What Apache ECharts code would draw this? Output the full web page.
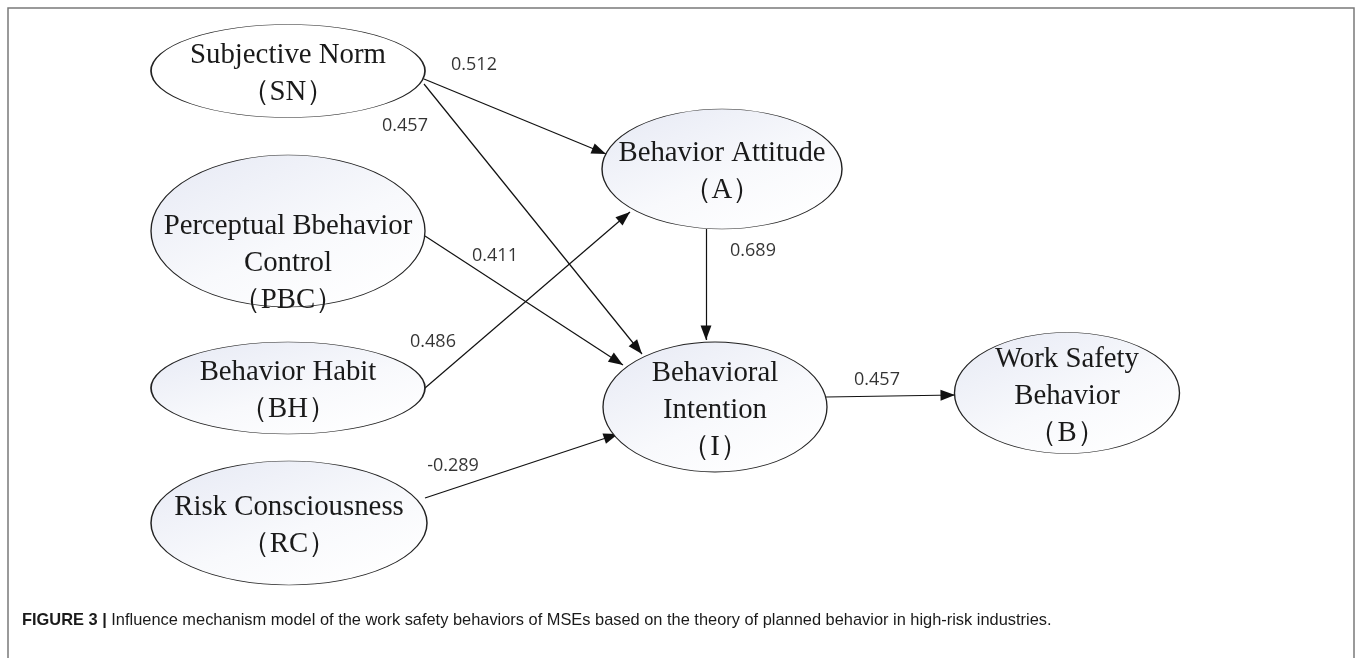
<!DOCTYPE html>
<html>
<head>
<meta charset="utf-8">
<script src="https://cdn.jsdelivr.net/npm/echarts@6/dist/echarts.min.js"></script>
<style>
  html, body { margin: 0; padding: 0; background: #fff; }
  #chart { width: 1360px; height: 658px; }
</style>
</head>
<body>
<div id="chart"></div>
<script>
// constructs (ellipses)
const nodeNames = [
    'Subjective Norm\n（SN）',
    'Perceptual Bbehavior\nControl\n（PBC）',
    'Behavior Habit\n（BH）',
    'Risk Consciousness\n（RC）',
    'Behavior Attitude\n（A）',
    'Behavioral\nIntention\n（I）',
    'Work Safety\nBehavior\n（B）'
];
const nodeX = [288, 288, 288, 289, 722, 715, 1067];
const nodeY = [71, 231, 388, 523, 169, 407, 393];
const nodeW = [274, 274, 274, 276, 240, 224, 225];
const nodeH = [93, 152, 92, 124, 120, 130, 121];

// paths: start point, arrow tip, coefficient
const pathFrom = [[424, 79], [424, 84], [425, 236], [425, 388], [425, 498], [706, 229], [826, 397]];
const pathTo = [[606, 154], [642, 354], [623, 365], [630, 212], [618, 434], [706, 340], [955, 395]];
const coefs = [0.512, 0.457, 0.411, 0.486, -0.289, 0.689, 0.457];
const coefX = [474, 405, 495, 433, 453, 753, 877];
const coefY = [65, 126, 256, 342, 466, 251, 380];

const caption = 'Influence mechanism model of the work safety behaviors of MSEs based on the theory of planned behavior in high-risk industries.';

const ellipseFill = {
    type: 'linear',
    x: 0, y: 0, x2: 0.8, y2: 1,
    colorStops: [
        { offset: 0, color: '#e6e9f4' },
        { offset: 0.6, color: '#f8f9fc' },
        { offset: 1, color: '#ffffff' }
    ]
};

// filled head in a 24x24 box, tip on the box centre (= line end)
const headPath = 'path://M0,0M24,0M12,12L16.5,24L7.5,24Z';

const chart = echarts.init(document.getElementById('chart'));

chart.setOption({
    animation: false,
    title: {
        text: '{b|FIGURE 3 |} ' + caption,
        left: 17,
        top: 607,
        textStyle: {
            fontFamily: 'Liberation Sans',
            fontSize: 16.4,
            fontWeight: 'normal',
            color: '#1a1a1a',
            rich: {
                b: { fontFamily: 'Liberation Sans', fontSize: 16.4, fontWeight: 'bold', color: '#1a1a1a' }
            }
        }
    },
    grid: { left: 0, right: 0, top: 0, bottom: 0 },
    xAxis: { type: 'value', min: 0, max: 1360, show: false },
    yAxis: { type: 'value', min: 0, max: 658, inverse: true, show: false },
    graphic: [{
        type: 'polyline',
        shape: { points: [[8, 658], [8, 8], [1354, 8], [1354, 658]] },
        style: { stroke: '#7a7a7a', lineWidth: 1.5, fill: null },
        silent: true
    }],
    series: [
        {
            type: 'lines',
            coordinateSystem: 'cartesian2d',
            z: 2,
            symbol: ['none', headPath],
            symbolSize: [1, 29],
            lineStyle: { color: '#111', width: 1.2, opacity: 1 },
            data: pathFrom.map((p, i) => ({ coords: [p, pathTo[i]] }))
        },
        {
            type: 'scatter',
            z: 3,
            symbol: 'circle',
            data: nodeNames.map((n, i) => ({
                name: n,
                value: [nodeX[i], nodeY[i]],
                symbolSize: [nodeW[i], nodeH[i]],
                itemStyle: { color: i === 0 ? '#ffffff' : ellipseFill },
                label: { offset: i === 1 ? [0, 32] : [0, 3] }
            })),
            itemStyle: { borderColor: '#222', borderWidth: 1, opacity: 1 },
            label: {
                show: true,
                position: 'inside',
                formatter: '{b}',
                fontFamily: 'Liberation Serif',
                fontSize: 28.8,
                lineHeight: 37,
                color: '#1a1a1a'
            },
            emphasis: { disabled: true }
        },
        {
            type: 'scatter',
            z: 4,
            symbolSize: 0,
            data: coefs.map((c, i) => ({ value: [coefX[i], coefY[i]], name: c.toFixed(3) })),
            label: {
                show: true,
                position: 'inside',
                formatter: '{b}',
                fontFamily: 'Open Sans',
                fontSize: 18,
                color: '#000'
            },
            emphasis: { disabled: true }
        }
    ]
});
</script>
</body>
</html>
